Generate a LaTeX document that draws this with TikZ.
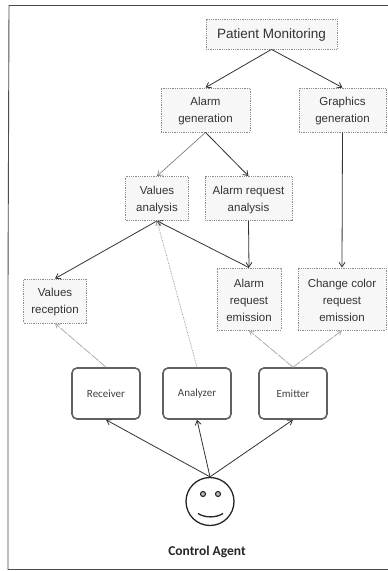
\documentclass[tikz,border=0pt]{standalone}
\usepackage{fontspec}
\setmainfont{Liberation Sans}
\newfontfamily\agentfont{Carlito}
\usetikzlibrary{arrows.meta}
\definecolor{boxline}{gray}{0.55}
\definecolor{boxfill}{gray}{0.97}
\definecolor{inkc}{gray}{0.2}
\tikzset{
  x=1pt,y=-1pt,
  taskbox/.style={draw=boxline,fill=boxfill,densely dotted,line width=0.8pt,align=center,inner sep=0pt,
    font=\fontsize{11.5}{17}\selectfont,text=black!80},
  titlebox/.style={taskbox,font=\fontsize{13.5}{17}\selectfont},
  rolebox/.style={draw=black!62,line width=1.6pt,rounded corners=5pt,fill=white,inner sep=0pt,
    font=\agentfont\fontsize{11}{13}\selectfont,text=black!75},
  link/.style={draw=inkc,line width=0.8pt,-{Straight Barb[length=4.5pt,width=6pt]}},
  softlink/.style={link,draw=black!55,line width=0.6pt},
  palelink/.style={draw=black!32,line width=0.8pt,dash pattern=on 9pt off 1.2pt,-{Straight Barb[length=4pt,width=5pt]}},
  dotlink/.style={draw=black!45,line width=0.7pt,densely dotted,-{Straight Barb[length=4pt,width=5pt]}},
  eye/.style={circle,draw=black!85,fill=black!25,line width=1.1pt,minimum size=5pt,inner sep=0pt}
}
\newcommand{\taskat}[7]{\node[#2,minimum width=#3pt,minimum height=#4pt] (#1) at (#5,#6) {\rule{0pt}{11pt}#7};}
\begin{document}
\begin{tikzpicture}
\useasboundingbox (0,0) rectangle (388,571);
\fill[white] (0,0) rectangle (388,571);
\draw[black!70,line width=0.9pt] (388,5.5) -- (9,5.5) -- (8,289) -- (8,569.5) -- (388,569.5);
\taskat{pm}{titlebox}{131}{30}{271.5}{34}{Patient Monitoring}
\taskat{ag}{taskbox}{89}{44}{205.5}{110}{Alarm\\generation}
\taskat{gg}{taskbox}{87}{44}{342.5}{110}{Graphics\\generation}
\taskat{va}{taskbox}{63}{44}{157}{198.5}{Values\\analysis}
\taskat{ara}{taskbox}{87}{44}{248.5}{198.5}{Alarm request\\analysis}
\taskat{are}{taskbox}{64}{62}{249}{299}{Alarm\\request\\emission}
\taskat{cc}{taskbox}{88}{62}{342}{299}{Change color\\request\\emission}
\taskat{vr}{taskbox}{63}{44}{55}{301}{Values\\reception}
\node[rolebox,minimum width=68pt,minimum height=51pt] (rc) at (106,393.5) {Receiver};
\node[rolebox,minimum width=68pt,minimum height=51pt] (an) at (197,393.5) {Analyzer};
\node[rolebox,minimum width=68pt,minimum height=51pt] (em) at (293,393.5) {Emitter};
\node[circle,draw=black!85,line width=1.3pt,minimum size=48pt,inner sep=0pt,fill=white] (face) at (210,501.5) {};
\node[eye] (le) at (203,494) {};
\node[eye] (re) at (218,494) {};
\draw[black!85,line width=1.3pt] (198,513.5) .. controls (205,518) and (216,518) .. (223,513.5);
\node[font=\agentfont\bfseries\fontsize{13.5}{15}\selectfont,text=black!85,inner sep=0pt] (ca) at (207,552) {Control Agent};
\draw[link] (pm.south) -- (ag.north);
\draw[link] (pm.south) -- (gg.north);
\draw[softlink] (ag.south) -- (va.north);
\draw[link] (ag.south) -- (ara.north);
\draw[link] (ara.south) -- (are.north);
\draw[link] (gg.south) -- (cc.north);
\draw[link] (va.south) -- (vr.north);
\draw[link] (are.north) -- (va.south);
\draw[dotlink] (an.north) -- (va.south);
\draw[palelink] (rc.north) -- (vr.south);
\draw[palelink] (em.north) -- (are.south);
\draw[palelink] (em.north) -- (cc.south);
\draw[link] (face.north) -- (rc.south);
\draw[link] (face.north) -- (an.south);
\draw[link] (face.north) -- (em.south);
\end{tikzpicture}
\end{document}
